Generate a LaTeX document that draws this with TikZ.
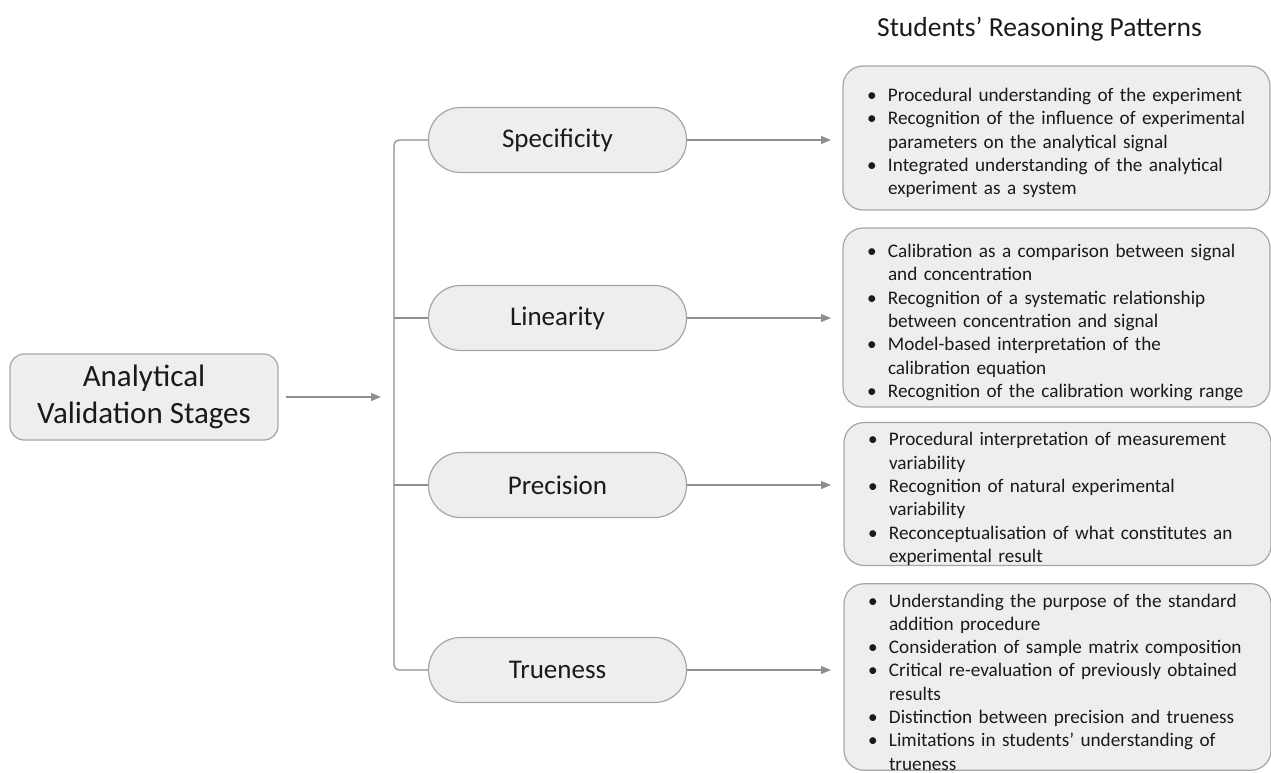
\documentclass[tikz,border=0pt]{standalone}
\usepackage{fontspec}
\setmainfont{Carlito}
\usetikzlibrary{arrows.meta}
\definecolor{boxfill}{HTML}{EEEEEE}
\definecolor{boxline}{HTML}{A6A6A6}
\definecolor{conn}{HTML}{8F8F8F}
\definecolor{txt}{HTML}{1A1A1A}
\newcommand{\bul}{\par\hangindent=29pt\hangafter=1\noindent\makebox[29pt][l]{\hspace{8pt}\textbullet}}
\tikzset{
  stagebox/.style={draw=boxline, line width=1.2pt, fill=boxfill, rounded corners=32pt,
    minimum width=258pt, minimum height=65pt, font=\fontsize{27}{32}\selectfont, text=txt},
  mainbox/.style={draw=boxline, line width=1.2pt, fill=boxfill, rounded corners=14pt,
    minimum width=268pt, minimum height=86pt, inner sep=0pt, align=center, font=\fontsize{31}{37.5}\selectfont, text=txt},
  listbox/.style={draw=boxline, line width=1.2pt, fill=boxfill, rounded corners=20pt,
    minimum width=427pt, text width=395pt, inner xsep=16pt, inner ysep=0pt, align=left,
    font=\fontsize{19.2}{23.3}\selectfont, text=txt},
  conn/.style={draw=conn, line width=1.2pt},
  arr/.style={conn, -{Triangle[length=10pt,width=8pt]}}
}
\begin{document}
\begin{tikzpicture}[x=1pt,y=-1pt]
\useasboundingbox (0,0) rectangle (1271,773);
\node[font=\fontsize{27.5}{32}\selectfont, text=txt] (title) at (1039.5,29) {Students’ Reasoning Patterns};

\node[mainbox] (main) at (144,397) {Analytical\\Validation Stages};

\node[stagebox] (spec) at (557.5,140) {Specificity};
\node[stagebox] (lin) at (557.5,318) {Linearity};
\node[stagebox] (prec) at (557.5,485) {Precision};
\node[stagebox] (true) at (557.5,670) {Trueness};

\node[listbox, minimum height=144pt] (r1) at (1056.5,138) {%
\bul Procedural understanding of the experiment
\bul Recognition of the influence of experimental\newline parameters on the analytical signal
\bul Integrated understanding of the analytical\newline experiment as a system\par};
\node[listbox, minimum height=179pt] (r2) at (1056.5,317.5) {%
\bul Calibration as a comparison between signal\newline and concentration
\bul Recognition of a systematic relationship\newline between concentration and signal
\bul Model-based interpretation of the\newline calibration equation
\bul Recognition of the calibration working range\par};
\node[listbox, minimum height=142pt] (r3) at (1057.5,494) {%
\bul Procedural interpretation of measurement\newline variability
\bul Recognition of natural experimental\newline variability
\bul Reconceptualisation of what constitutes an\newline experimental result\par};
\node[listbox, minimum height=186pt] (r4) at (1057.5,677) {%
\bul Understanding the purpose of the standard\newline addition procedure
\bul Consideration of sample matrix composition
\bul Critical re-evaluation of previously obtained\newline results
\bul Distinction between precision and trueness
\bul Limitations in students’ understanding of\newline trueness\par};

\coordinate (mtip) at (381,397);
\draw[arr] (main.east) ++(7,0) -- (mtip);

\coordinate (btop) at (394,140);
\coordinate (bbot) at (394,670);
\draw[conn, rounded corners=5pt] (spec.west) -- (btop) -- (bbot) -- (true.west);
\draw[conn] (lin.west) -- (lin.west -| btop);
\draw[conn] (prec.west) -- (prec.west -| btop);

\coordinate (t1) at (831,140);
\coordinate (t2) at (831,318);
\coordinate (t3) at (831,485);
\coordinate (t4) at (831,670);
\draw[arr] (spec.east) -- (t1);
\draw[arr] (lin.east) -- (t2);
\draw[arr] (prec.east) -- (t3);
\draw[arr] (true.east) -- (t4);
\end{tikzpicture}
\end{document}
